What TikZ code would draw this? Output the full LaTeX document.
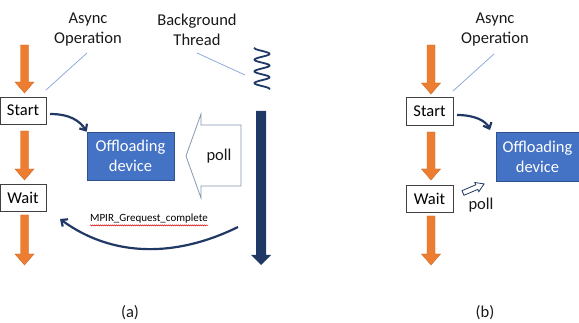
\documentclass[tikz,border=0pt]{standalone}
\usepackage{fontspec}
\setmainfont{Carlito}
\usetikzlibrary{arrows.meta,decorations.pathmorphing,calc}
\definecolor{orangeA}{HTML}{ED7D31}
\definecolor{navy}{HTML}{203864}
\definecolor{lineblue}{HTML}{8FAADC}
\definecolor{boxblue}{HTML}{4472C4}
\definecolor{boxborder}{HTML}{2F528F}
\definecolor{pollgray}{HTML}{8497B0}
\newcommand\blockdown[3]{%
  \fill[orangeA,draw=orangeA!85!black,line width=0.4pt] (#1-4,#2) -- (#1+4,#2) -- (#1+4,#3-11) -- (#1+9.5,#3-11) -- (#1,#3) -- (#1-9.5,#3-11) -- (#1-4,#3-11) -- cycle;}
\tikzset{
  txt/.style={font=\fontsize{16.5}{20}\selectfont, align=center, inner sep=0pt, text=black!90},
  stepbox/.style={draw=black!75, line width=0.6pt, fill=white, minimum width=46pt, minimum height=27pt, inner sep=0pt, font=\fontsize{16.5}{20}\selectfont},
  offbox/.style={draw=boxborder, line width=0.6pt, fill=boxblue, text=white, align=center, inner sep=0pt, font=\fontsize{16.5}{20}\selectfont},
  thin line/.style={lineblue, line width=0.8pt},
  navyarrow/.style={navy, line width=2.2pt, -{Straight Barb[length=5pt,width=9pt]}},
}
\begin{document}
\begin{tikzpicture}[x=1pt,y=-1pt]
\useasboundingbox (0,0) rectangle (579,323);
% ---------- panel (a) ----------
\node[txt] (asyncA) at (88,30) {Async\\Operation};
\node[txt] (bgA) at (197,30) {Background\\Thread};
\blockdown{24.5}{45}{93}
\node[stepbox] (startA) at (23,110.5) {Start};
\blockdown{24.5}{131}{180}
\node[stepbox] (waitA) at (23,198) {Wait};
\blockdown{24.5}{215}{265}
\node[offbox, minimum width=87pt, minimum height=48pt] (offA) at (130.5,156) {Offloading\\device};
\coordinate (la1) at (87,53); \coordinate (la2) at (46,90);
\draw[thin line] (la1) -- (la2);
\coordinate (lb1) at (197,53); \coordinate (lb2) at (245,75);
\draw[thin line] (lb1) -- (lb2);
% spring
\draw[navy, line width=1.8pt, smooth, domain=0:41, samples=100, line cap=round] plot ({262 - 7.5*cos(\x/11.7*360)}, {48+\x});
% background thread bar
\fill[navy] (256,111) -- (266,111) -- (266,255) -- (271,255) -- (261,265) -- (251,255) -- (256,255) -- cycle;
\coordinate (barTop) at (261,111);
% poll callout
\draw[pollgray, line width=0.8pt, fill=white] (241,125) -- (201,125) -- (201,114) -- (186,156) -- (201,198) -- (201,186) -- (241,186) -- cycle;
\node[txt] (pollA) at (219,156) {poll};
% start -> offloading
\coordinate (sA) at (50,114);
\draw[navyarrow] (sA) .. controls (70,114) and (80,121) .. (offA.north west);
% MPIR_Grequest_complete
\node[inner sep=0pt, font=\fontsize{11}{13}\selectfont] (mpir) at (149,219) {MPIR\_Grequest\_complete};
\draw[red!85!black, line width=0.4pt, decorate, decoration={snake, amplitude=0.6pt, segment length=2pt}] ($(mpir.south west)+(0,1.5)$) -- ($(mpir.south east)+(0,1.5)$);
\coordinate (mA) at (238,227);
\coordinate (mB) at (60,219);
\draw[navyarrow] (mA) .. controls (175,258) and (112,257) .. (mB);
\node[txt] (capA) at (130,313) {(a)};
% ---------- panel (b) ----------
\node[txt] (asyncB) at (495,30) {Async\\Operation};
\blockdown{431}{45}{94}
\node[stepbox, minimum width=47pt, minimum height=28pt] (startB) at (429.5,111) {Start};
\blockdown{431}{132}{180}
\node[stepbox, minimum width=47pt] (waitB) at (429.5,198.5) {Wait};
\blockdown{431}{216}{265}
\node[offbox, minimum width=83pt, minimum height=49pt] (offB) at (537.5,156.5) {Offloading\\device};
\coordinate (lc1) at (494,54); \coordinate (lc2) at (453,91);
\draw[thin line] (lc1) -- (lc2);
\coordinate (sB) at (457,115); \coordinate (eB) at (490,130);
\draw[navyarrow] (sB) .. controls (475,115) and (486,121) .. (eB);
\draw[navy, line width=0.8pt, fill=white] (464.0,195.3) -- (477.8,189.4) -- (478.8,191.7) -- (484.1,183.9) -- (474.8,182.5) -- (475.8,184.8) -- (462.0,190.7) -- cycle;
\node[txt] (pollB) at (481,205) {poll};
\node[txt] (capB) at (485,313) {(b)};
\end{tikzpicture}
\end{document}
